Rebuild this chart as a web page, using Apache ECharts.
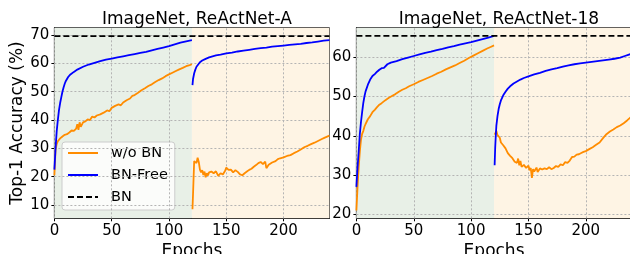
<!DOCTYPE html>
<html>
<head>
<meta charset="utf-8">
<script src="https://cdn.jsdelivr.net/npm/echarts@6/dist/echarts.min.js"></script>
<style>
  html, body { margin: 0; padding: 0; background: #fff; }
  #chart { width: 630px; height: 254px; }
</style>
</head>
<body>
<div id="chart"></div>
<script>
// ---- data: [epoch, top-1 accuracy %] ----
var titles = ['ImageNet, ReActNet-A', 'ImageNet, ReActNet-18'];
var xTicks = [0, 50, 100, 150, 200];
var yTicksA = [10, 20, 30, 40, 50, 60, 70];
var yTicks18 = [20, 30, 40, 50, 60];
var phaseSplit = 120;
var bnA = 69.6;
var bn18 = 65.4;

// ReActNet-A
var freeA1 = [[0,22.5],[1,30],[2,36],[3,40],[4,43.5],[5,46],[6,48],[7,50],[8,51.5],[9,52.8],[10,53.8],[12,55.2],[14,56.1],[17,57],[20,57.8],[25,58.8],[30,59.6],[35,60.2],[40,60.8],[45,61.3],[50,61.7],[55,62.1],[60,62.5],[65,62.9],[70,63.3],[75,63.7],[80,64.1],[85,64.6],[90,65.1],[95,65.6],[100,66.1],[105,66.7],[110,67.3],[115,67.8],[120,68.2]];
var freeA2 = [[120.5,52.3],[121,54.5],[122,56.5],[123,57.8],[124,58.8],[125,59.5],[127,60.4],[129,61],[132,61.6],[135,62.1],[138,62.5],[141,62.8],[145,63.1],[150,63.5],[155,63.8],[160,64.2],[165,64.5],[170,64.8],[175,65.1],[180,65.4],[185,65.6],[190,65.9],[195,66.1],[200,66.3],[205,66.5],[210,66.7],[215,66.9],[220,67.2],[225,67.4],[230,67.7],[235,68],[240,68.2]];
var noBnA1 = [[0,20.5],[1,29.5],[2,31.5],[3,32.5],[5,33.5],[7,34.2],[9,34.8],[11,35],[13,35.6],[15,36.3],[17,36.2],[19,37],[20,38.5],[21,36.5],[22,39.2],[23,37.6],[25,39.2],[27,39.5],[29,40.2],[31,40],[33,41.2],[35,40.9],[37,41.6],[40,42],[43,42.6],[46,43.4],[48,43.1],[50,44.3],[53,45],[56,45.5],[58,45.2],[60,46.2],[63,47],[66,47.6],[68,48.5],[70,48.8],[73,49.6],[76,50.5],[79,51.2],[82,52],[85,52.6],[88,53.4],[91,54.1],[94,54.7],[97,55.5],[100,56.1],[103,56.7],[106,57.3],[109,57.9],[112,58.4],[115,59],[118,59.4],[120,59.7]];
var noBnA2 = [[120.5,8.5],[121,14],[121.5,20],[122,25.5],[123,26],[124,24.8],[125,26.7],[126,25.2],[127,22.5],[128,21.5],[129,22.3],[130,20.6],[131,21.8],[132,19.8],[133,21.2],[134,20.4],[135,21.5],[137,21.8],[139,21.2],[141,21.9],[143,20.3],[145,21.2],[147,20.8],[149,22.1],[150,23.2],[152,22.4],[154,22.5],[156,21.5],[158,22.3],[160,21.7],[162,20.8],[164,20.5],[166,21.2],[168,21.8],[170,22.4],[172,22.8],[174,23.5],[176,24.1],[178,24.8],[180,25.2],[182,24.4],[184,25.3],[185,23],[187,24.2],[190,25],[193,25.5],[195,26.2],[197,26.5],[200,26.8],[203,27.3],[206,27.6],[209,28.3],[212,28.9],[215,29.6],[218,30.4],[221,30.9],[224,31.5],[227,32],[230,32.6],[233,33.2],[236,33.8],[240,34.5]];

// ReActNet-18
var free181 = [[0,27],[1,32],[2,36],[3,40.5],[4,43.5],[5,46],[6,48.3],[7,50],[8,51.3],[10,53],[12,54.3],[14,55.2],[16,55.7],[18,56.3],[20,56.8],[22,57.2],[24,57.3],[25,57.2],[27,58.2],[30,58.6],[35,59],[40,59.5],[45,59.9],[50,60.3],[55,60.7],[60,61.1],[65,61.4],[70,61.8],[75,62.1],[80,62.5],[85,62.8],[90,63.2],[95,63.5],[100,63.8],[105,64.2],[110,64.6],[115,65],[120,65.4]];
var free182 = [[120.5,32.5],[121,37],[121.5,40],[122,42.5],[123,45],[124,46.8],[125,48],[126,49],[128,50.3],[130,51.2],[132,52],[134,52.6],[137,53.3],[140,53.8],[143,54.3],[146,54.7],[150,55.1],[155,55.6],[160,56],[165,56.5],[170,56.9],[175,57.2],[180,57.6],[185,57.9],[190,58.2],[195,58.4],[200,58.6],[205,58.8],[210,59],[215,59.2],[220,59.4],[225,59.6],[230,59.9],[234,60.3],[237,60.6],[240,60.9]];
var noBn181 = [[0,21],[1,27],[2,32],[3,36],[4,39],[5,40.5],[6,41.2],[7,42.3],[8,43],[10,44.2],[12,45],[14,46],[16,46.6],[18,47.3],[20,47.9],[22,48.3],[25,49],[28,49.6],[31,50.1],[34,50.6],[37,51.2],[40,51.7],[43,52.1],[46,52.6],[50,53.1],[54,53.7],[58,54.2],[62,54.7],[66,55.2],[70,55.8],[74,56.3],[78,56.9],[82,57.4],[86,57.9],[90,58.5],[94,59.1],[98,59.8],[102,60.4],[106,61],[110,61.6],[114,62.2],[117,62.6],[120,63]];
var noBn182 = [[120.5,40.3],[121,39.8],[122,41.2],[123,40.2],[124,40.5],[125,39.5],[126,38.3],[127,37.9],[128,37.6],[130,36.8],[132,35.6],[134,34.9],[136,34.3],[138,33.4],[140,33.1],[141,34.2],[142,32.5],[143,33.6],[144,32.1],[146,32.6],[148,31.8],[150,32.4],[151,31.2],[152,31.8],[153,29.3],[154,31.5],[155,30.9],[157,31.9],[158,30.8],[160,31.7],[162,31.4],[164,31.7],[166,31.5],[168,32],[170,31.5],[172,31.8],[174,32.3],[176,32.1],[178,32.7],[180,32.5],[182,33.3],[184,33.1],[186,33.7],[188,34.6],[190,34.7],[192,35.2],[194,35.3],[196,35.6],[198,35.9],[200,36.1],[203,36.6],[206,37.1],[209,37.7],[212,38.3],[215,39.4],[218,40.4],[221,41.1],[224,41.6],[227,42.2],[230,42.6],[233,43.2],[236,43.9],[239,44.7],[240,44.9]];

var FONT = 'DejaVu Sans';
var ORANGE = '#ff8c00';
var BLUE = '#0000ff';

function lineSeries(name, idx, data, color, dashed) {
  return {
    name: name,
    type: 'line',
    xAxisIndex: idx,
    yAxisIndex: idx,
    data: data,
    symbol: 'none',
    showSymbol: false,
    z: 5,
    lineStyle: { color: color, width: 1.8, type: dashed ? [6, 3] : 'solid' },
    itemStyle: { color: color }
  };
}

// shading + dotted grid lines, drawn under the curves
function backdrop(idx, yTicks) {
  var lines = yTicks.map(function(v) { return { yAxis: v }; })
    .concat(xTicks.map(function(v) { return { xAxis: v }; }));
  return {
    type: 'line',
    xAxisIndex: idx,
    yAxisIndex: idx,
    data: [],
    z: 1,
    silent: true,
    markArea: {
      silent: true,
      data: [
        [{ xAxis: 0, itemStyle: { color: '#e8f0e7' } }, { xAxis: phaseSplit }],
        [{ xAxis: phaseSplit, itemStyle: { color: '#fef4e4' } }, { xAxis: 240 }]
      ]
    },
    markLine: {
      silent: true,
      symbol: ['none', 'none'],
      label: { show: false },
      lineStyle: { color: '#b4b4b4', width: 1, type: [2, 2] },
      data: lines
    }
  };
}

function xAxisOf(idx) {
  return {
    type: 'value',
    gridIndex: idx,
    min: 0,
    max: 240,
    name: 'Epochs',
    nameLocation: 'middle',
    nameGap: 20,
    nameTextStyle: { fontFamily: FONT, fontSize: 17, color: '#000' },
    axisLine: { show: true, lineStyle: { color: '#000', width: 1 } },
    axisTick: { show: true, length: 3, customValues: xTicks, lineStyle: { color: '#000' } },
    axisLabel: { customValues: xTicks, margin: 5, fontFamily: FONT, fontSize: 15, color: '#000' },
    splitLine: { show: false }
  };
}

function yAxisOf(idx, min, max, ticks, name) {
  return {
    type: 'value',
    gridIndex: idx,
    min: min,
    max: max,
    name: name,
    nameLocation: 'middle',
    nameGap: 25,
    nameTextStyle: { fontFamily: FONT, fontSize: 17, color: '#000' },
    axisLine: { show: true, lineStyle: { color: '#000', width: 1 } },
    axisTick: { show: true, length: 3, customValues: ticks, lineStyle: { color: '#000' } },
    axisLabel: { customValues: ticks, margin: 5, fontFamily: FONT, fontSize: 15, color: '#000' },
    splitLine: { show: false }
  };
}

var chart = echarts.init(document.getElementById('chart'), null, { renderer: 'canvas' });

var gridBase = {
  top: 27.7, height: 190.6, show: true, borderColor: '#000', borderWidth: 1,
  backgroundColor: 'transparent', containLabel: false, outerBoundsMode: 'none'
};

var option = {
  animation: false,
  backgroundColor: '#fff',
  title: [
    { text: titles[0], left: 191.9, top: 6, textAlign: 'center',
      textStyle: { fontFamily: FONT, fontSize: 17, fontWeight: 'normal', color: '#000' } },
    { text: titles[1], left: 493.9, top: 6, textAlign: 'center',
      textStyle: { fontFamily: FONT, fontSize: 17, fontWeight: 'normal', color: '#000' } }
  ],
  legend: {
    data: ['w/o BN', 'BN-Free', 'BN'],
    orient: 'vertical',
    left: 62,
    top: 142,
    padding: [3, 7, 5, 5],
    itemWidth: 30,
    itemHeight: 14,
    itemGap: 6,
    itemStyle: { opacity: 0 },
    backgroundColor: 'rgba(255,255,255,0.8)',
    borderColor: '#cccccc',
    borderWidth: 1,
    borderRadius: 3,
    textStyle: { fontFamily: FONT, fontSize: 14.5, color: '#000', lineHeight: 16, padding: [0, 0, 0, 8] }
  },
  grid: [
    Object.assign({ left: 54.4, width: 275 }, gridBase),
    Object.assign({ left: 356.4, width: 275.3 }, gridBase)
  ],
  xAxis: [xAxisOf(0), xAxisOf(1)],
  yAxis: [
    yAxisOf(0, 5.3, 72.6, yTicksA, 'Top-1 Accuracy (%)'),
    yAxisOf(1, 19, 67.5, yTicks18, '')
  ],
  series: [
    backdrop(0, yTicksA),
    backdrop(1, yTicks18),
    lineSeries('w/o BN', 0, noBnA1, ORANGE),
    lineSeries('w/o BN', 0, noBnA2, ORANGE),
    lineSeries('BN-Free', 0, freeA1, BLUE),
    lineSeries('BN-Free', 0, freeA2, BLUE),
    lineSeries('BN', 0, [[0, bnA], [240, bnA]], '#000', true),
    lineSeries('w/o BN', 1, noBn181, ORANGE),
    lineSeries('w/o BN', 1, noBn182, ORANGE),
    lineSeries('BN-Free', 1, free181, BLUE),
    lineSeries('BN-Free', 1, free182, BLUE),
    lineSeries('BN', 1, [[0, bn18], [240, bn18]], '#000', true)
  ]
};

chart.setOption(option);
</script>
</body>
</html>
